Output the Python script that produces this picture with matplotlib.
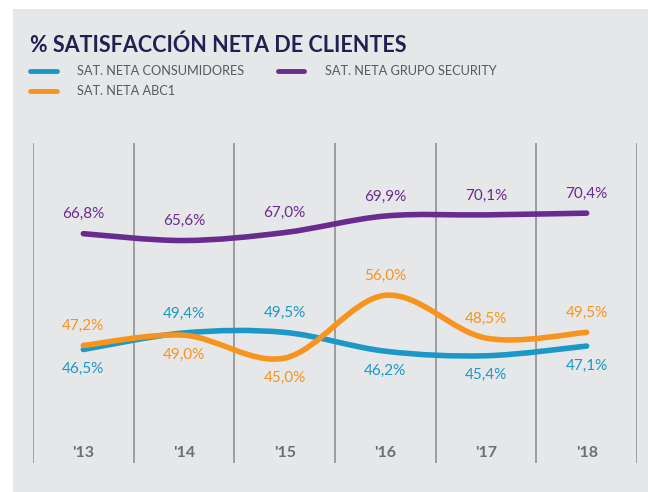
import matplotlib
matplotlib.use("Agg")
import matplotlib.pyplot as plt
from matplotlib.path import Path
from matplotlib.patches import PathPatch, Rectangle
from matplotlib.lines import Line2D

# Datos
years = ["'13", "'14", "'15", "'16", "'17", "'18"]
consumidores = [46.5, 49.4, 49.5, 46.2, 45.4, 47.1]
abc1 = [47.2, 49.0, 45.0, 56.0, 48.5, 49.5]
grupo_security = [66.8, 65.6, 67.0, 69.9, 70.1, 70.4]

# label side: +1 above, -1 below
pos_consumidores = [-1, 1, 1, -1, -1, -1]
pos_abc1 = [1, -1, -1, 1, 1, 1]
pos_security = [1, 1, 1, 1, 1, 1]

BLUE = '#1b98c6'
ORANGE = '#f7941d'
PURPLE = '#6a2b90'
GRAY_BG = '#e6e7e8'
TITLE_C = '#231f4f'
TEXT_C = '#58595b'
TICK_C = '#6d6e71'

plt.rcParams['font.family'] = ['Lato', 'DejaVu Sans']


def smooth_path(xs, ys, t=1/6):
    """Catmull-Rom style bezier path through the points"""
    n = len(xs)
    verts = [(xs[0], ys[0])]
    codes = [Path.MOVETO]
    for i in range(n - 1):
        x0, y0 = (xs[i - 1], ys[i - 1]) if i > 0 else (xs[i], ys[i])
        x1, y1 = xs[i], ys[i]
        x2, y2 = xs[i + 1], ys[i + 1]
        x3, y3 = (xs[i + 2], ys[i + 2]) if i + 2 < n else (x2, y2)
        c1 = (x1 + (x2 - x0) * t, y1 + (y2 - y0) * t)
        c2 = (x2 - (x3 - x1) * t, y2 - (y3 - y1) * t)
        verts += [c1, c2, (x2, y2)]
        codes += [Path.CURVE4] * 3
    return Path(verts, codes)


fig = plt.figure(figsize=(6.48, 4.92), dpi=100)
fig.patch.set_facecolor('white')
fig.patches.append(Rectangle((13 / 648, 0), 1, 1 - 9 / 492, transform=fig.transFigure,
                             facecolor=GRAY_BG, edgecolor='none', zorder=-5))

ax = fig.add_axes([33 / 648, 29 / 492, 604 / 648, 320 / 492])
ax.set_facecolor('none')
for s in ax.spines.values():
    s.set_visible(False)
ax.set_xlim(-0.5, 5.5)
ax.set_ylim(26.6, 82.7)
ax.set_yticks([])
ax.set_xticks(range(len(years)))
ax.set_xticklabels(years, fontsize=11.5, fontweight='bold', color=TICK_C)
ax.tick_params(axis='x', length=0, pad=-12.5)

for xb in range(len(years) + 1):
    ax.axvline(xb - 0.5, color='#8a8a8c', lw=1.1, zorder=1)

xs = list(range(len(years)))
series = [
    (consumidores, pos_consumidores, BLUE, 'SAT. NETA CONSUMIDORES'),
    (abc1, pos_abc1, ORANGE, 'SAT. NETA ABC1'),
    (grupo_security, pos_security, PURPLE, 'SAT. NETA GRUPO SECURITY'),
]
for vals, sides, col, name in series:
    patch = PathPatch(smooth_path(xs, vals), facecolor='none', edgecolor=col,
                      lw=4, capstyle='round', joinstyle='round', zorder=3)
    ax.add_patch(patch)
    for x, v, sd in zip(xs, vals, sides):
        ax.annotate(f"{v:.1f}%".replace('.', ','), (x, v), xytext=(0, 14 * sd),
                    textcoords='offset points', ha='center', va='center',
                    fontsize=11, color=col, zorder=4)

fig.text(30 / 648, 1 - 45 / 492, '% SATISFACCIÓN NETA DE CLIENTES', fontsize=15.5,
         fontweight='bold', color=TITLE_C, va='center', ha='left')

handles = [Line2D([], [], color=BLUE, lw=3.5, solid_capstyle='round'),
           Line2D([], [], color=ORANGE, lw=3.5, solid_capstyle='round'),
           Line2D([], [], color=PURPLE, lw=3.5, solid_capstyle='round')]
labels = ['SAT. NETA CONSUMIDORES', 'SAT. NETA ABC1', 'SAT. NETA GRUPO SECURITY']
fig.legend(handles, labels, loc='upper left', bbox_to_anchor=(30 / 648, 1 - 65 / 492),
           ncol=2, frameon=False, fontsize=9.2, handlelength=2.1, handletextpad=1.6,
           columnspacing=2.6, labelspacing=0.65, borderpad=0, borderaxespad=0,
           labelcolor=TEXT_C)

fig.savefig('out.png', dpi=100)
